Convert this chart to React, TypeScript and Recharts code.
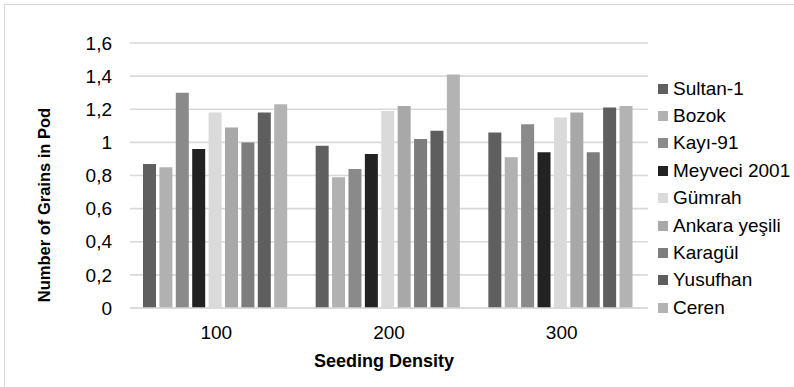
import { Bar, BarChart, CartesianGrid, Legend, XAxis, YAxis } from 'recharts'

const densities = ['100', '200', '300']

const varieties = [
  'Sultan-1',
  'Bozok',
  'Kayı-91',
  'Meyveci 2001',
  'Gümrah',
  'Ankara yeşili',
  'Karagül',
  'Yusufhan',
  'Ceren',
]

const sultan1 = [0.87, 0.98, 1.06]
const bozok = [0.85, 0.79, 0.91]
const kayi91 = [1.3, 0.84, 1.11]
const meyveci2001 = [0.96, 0.93, 0.94]
const gumrah = [1.18, 1.19, 1.15]
const ankaraYesili = [1.09, 1.22, 1.18]
const karagul = [1.0, 1.02, 0.94]
const yusufhan = [1.18, 1.07, 1.21]
const ceren = [1.23, 1.41, 1.22]

const yTicks = [0, 0.2, 0.4, 0.6, 0.8, 1, 1.2, 1.4, 1.6]

const colors = ['#5f5f5f', '#b1b1b1', '#8a8a8a', '#222222', '#dadada', '#a8a8a8', '#7d7d7d', '#5e5e5e', '#b3b3b3']

const seriesValues = [sultan1, bozok, kayi91, meyveci2001, gumrah, ankaraYesili, karagul, yusufhan, ceren]

const data = densities.map((d, i) => {
  const row: Record<string, string | number> = { density: d }
  varieties.forEach((v, j) => {
    row[v] = seriesValues[j][i]
  })
  return row
})

// no serif face in the sandbox, Liberation Sans is the closest in width
const font = "'Liberation Sans', Arial, sans-serif"

function LegendBox() {
  return (
    <div style={{ fontFamily: font, fontSize: 19, color: '#000' }}>
      {varieties.map((v, i) => (
        <div key={v} style={{ display: 'flex', alignItems: 'center', height: 27.4, whiteSpace: 'nowrap' }}>
          <span style={{ width: 10, height: 10, background: colors[i], marginRight: 5, display: 'inline-block' }} />
          <span>{v}</span>
        </div>
      ))}
    </div>
  )
}

export default function App() {
  return (
    <div style={{ position: 'absolute', left: 0, top: 0, width: 794, height: 387, overflow: 'hidden', background: '#fff' }}>
      <div
        style={{
          position: 'absolute',
          left: 4,
          top: 4,
          width: 820,
          height: 420,
          border: '1.5px solid #d9d9d9',
        }}
      />
      <div style={{ position: 'absolute', left: 0, top: 0 }}>
        <BarChart
          width={794}
          height={387}
          data={data}
          margin={{ top: 43, right: 146, bottom: 0, left: 0 }}
          barCategoryGap={13}
          barGap={3.4}
        >
          <CartesianGrid vertical={false} stroke="#d9d9d9" strokeWidth={1.6} />
          <XAxis
            dataKey="density"
            height={79}
            axisLine={{ stroke: '#d9d9d9', strokeWidth: 1.6 }}
            tickLine={false}
            tickSize={0}
            tickMargin={18}
            tick={{ fill: '#000', fontFamily: font, fontSize: 19 }}
            label={{
              content: ({ viewBox }: any) => (
                <text
                  x={viewBox.x + viewBox.width / 2 - 5}
                  y={367}
                  textAnchor="middle"
                  fontFamily={font}
                  fontSize={18}
                  fontWeight="bold"
                  fill="#000"
                >
                  Seeding Density
                </text>
              ),
            }}
          />
          <YAxis
            width={130}
            domain={[0, 1.6]}
            ticks={yTicks}
            axisLine={false}
            tickLine={false}
            tickSize={0}
            tickMargin={18}
            tickFormatter={(v: number) => String(v).replace('.', ',')}
            tick={{ fill: '#000', fontFamily: font, fontSize: 19 }}
            label={{
              content: () => (
                <text
                  transform="translate(50,205) rotate(-90)"
                  textAnchor="middle"
                  fontFamily={font}
                  fontSize={16.5}
                  fontWeight="bold"
                  fill="#000"
                >
                  Number of Grains in Pod
                </text>
              ),
            }}
          />
          <Legend
            layout="vertical"
            align="center"
            verticalAlign="middle"
            wrapperStyle={{ left: 658, top: 75, width: 140 }}
            content={() => <LegendBox />}
          />
          {varieties.map((v, i) => (
            <Bar key={v} dataKey={v} fill={colors[i]} isAnimationActive={false} />
          ))}
        </BarChart>
      </div>
    </div>
  )
}
